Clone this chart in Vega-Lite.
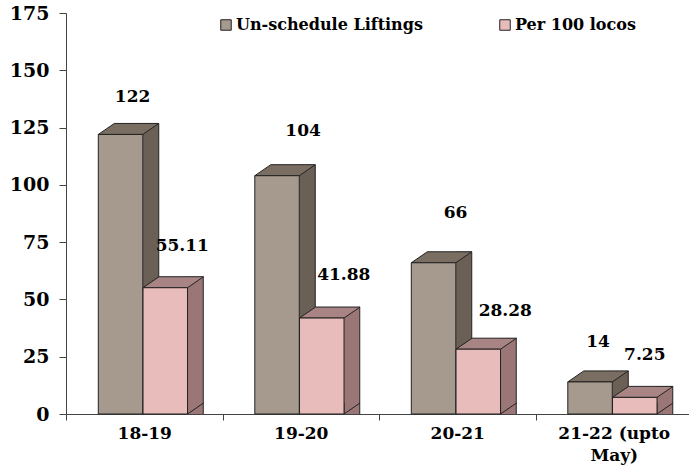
{
"$schema":"https://vega.github.io/schema/vega-lite/v6.json",
"width":623,"height":401,
"autosize":{"type":"none"},
"padding":{"left":66,"top":13,"right":0,"bottom":54},
"background":"white",
"config":{"view":{"stroke":null},"text":{"font":"DejaVu Serif","fontWeight":"bold"}},
"data":{"values":[
{"year":"18-19","series":"Un-schedule Liftings","value":122},
{"year":"19-20","series":"Un-schedule Liftings","value":104},
{"year":"20-21","series":"Un-schedule Liftings","value":66},
{"year":"21-22 (upto May)","series":"Un-schedule Liftings","value":14},
{"year":"18-19","series":"Per 100 locos","value":55.11},
{"year":"19-20","series":"Per 100 locos","value":41.88},
{"year":"20-21","series":"Per 100 locos","value":28.28},
{"year":"21-22 (upto May)","series":"Per 100 locos","value":7.25}
]},
"encoding":{
"x":{"field":"year","type":"nominal","title":null,
"scale":{"range":[0,626],"paddingInner":0,"paddingOuter":0},
"axis":{"labelAngle":0,"tickBand":"extent","domainColor":"#444","tickColor":"#444","tickSize":6,"labelFont":"DejaVu Serif","labelFontWeight":"bold","labelFontSize":17,"labelColor":"black","labelPadding":5,"labelLimit":200,"labelLineHeight":22,
"labelExpr":"datum.value == '21-22 (upto May)' ? ['21-22 (upto','May)'] : datum.value"}},
"xOffset":{"field":"series","type":"nominal","sort":["Un-schedule Liftings","Per 100 locos"],
"scale":{"paddingInner":0,"paddingOuter":0.75,"align":0.48}},
"y":{"field":"value","type":"quantitative","title":null,
"scale":{"domain":[0,175],"nice":false},
"axis":{"values":[0,25,50,75,100,125,150,175],"grid":false,"domainColor":"#444","tickColor":"#444","tickSize":7,"labelFont":"DejaVu Serif","labelFontWeight":"bold","labelFontSize":19,"labelColor":"black","labelPadding":10}}
},
"layer":[
{"transform":[{"filter":"datum.series=='Un-schedule Liftings'"}],
"mark":{"type":"bar","width":16,"xOffset":6.5,"yOffset":-11,"fill":"#6b6056"},
"encoding":{"xOffset":null,"y2":{"datum":0}}},
{"transform":[{"filter":"datum.series=='Per 100 locos'"}],
"mark":{"type":"bar","width":16,"xOffset":51,"yOffset":-11,"fill":"#9b7676"},
"encoding":{"xOffset":null,"y2":{"datum":0}}},
{"mark":{"type":"point","filled":true,"size":4,"opacity":1,"stroke":"#222","strokeWidth":1,"shape":"M22.25,-11L22.25,0L38.25,-11"},
"encoding":{"y":{"datum":0},
"fill":{"condition":{"test":"datum.series=='Per 100 locos'","value":"#9b7676"},"value":"#6b6056"}}},
{"transform":[{"filter":"datum.series=='Un-schedule Liftings'"}],
"mark":{"type":"rule","xOffset":14.5,"yOffset":-11,"stroke":"#222","strokeWidth":1},
"encoding":{"xOffset":null,"y2":{"datum":0}}},
{"transform":[{"filter":"datum.series=='Per 100 locos'"}],
"mark":{"type":"rule","xOffset":59,"yOffset":-11,"stroke":"#222","strokeWidth":1},
"encoding":{"xOffset":null,"y2":{"datum":0}}},
{"mark":{"type":"point","filled":true,"size":4,"opacity":1,"stroke":"#222","strokeWidth":1,"shape":"M-22.25,0L-6.25,-11L38.25,-11L22.25,0Z"},
"encoding":{"fill":{"condition":{"test":"datum.series=='Per 100 locos'","value":"#a98484"},"value":"#7a6e63"}}},
{"mark":{"type":"bar","width":44.5,"stroke":"#222","strokeWidth":1},
"encoding":{"y2":{"datum":0},
"color":{"field":"series","type":"nominal","scale":{"domain":["Un-schedule Liftings","Per 100 locos"],"range":["#a6998e","#e9bcbc"]},
"legend":{"title":null,"orient":"none","legendX":152,"legendY":4,"direction":"horizontal","symbolType":"square","symbolSize":110,"symbolStrokeColor":"#222","symbolStrokeWidth":1,"labelFont":"DejaVu Serif","labelFontWeight":"bold","labelFontSize":16,"labelColor":"black","columnPadding":74,"labelOffset":2,"labelLimit":300}}}},
{"transform":[{"filter":"datum.value==122"}],"mark":{"type":"text","fontSize":17,"dx":12,"dy":-37},"encoding":{"text":{"field":"value"}}},
{"transform":[{"filter":"datum.value==104"}],"mark":{"type":"text","fontSize":17,"dx":26,"dy":-45},"encoding":{"text":{"field":"value"}}},
{"transform":[{"filter":"datum.value==66"}],"mark":{"type":"text","fontSize":17,"dx":22,"dy":-50},"encoding":{"text":{"field":"value"}}},
{"transform":[{"filter":"datum.value==14"}],"mark":{"type":"text","fontSize":17,"dx":8,"dy":-40},"encoding":{"text":{"field":"value"}}},
{"transform":[{"filter":"datum.value==55.11"}],"mark":{"type":"text","fontSize":17,"dx":17,"dy":-42},"encoding":{"text":{"field":"value"}}},
{"transform":[{"filter":"datum.value==41.88"}],"mark":{"type":"text","fontSize":17,"dx":22,"dy":-43},"encoding":{"text":{"field":"value"}}},
{"transform":[{"filter":"datum.value==28.28"}],"mark":{"type":"text","fontSize":17,"dx":27,"dy":-38},"encoding":{"text":{"field":"value"}}},
{"transform":[{"filter":"datum.value==7.25"}],"mark":{"type":"text","fontSize":17,"dx":10,"dy":-42},"encoding":{"text":{"field":"value"}}}
]
}
